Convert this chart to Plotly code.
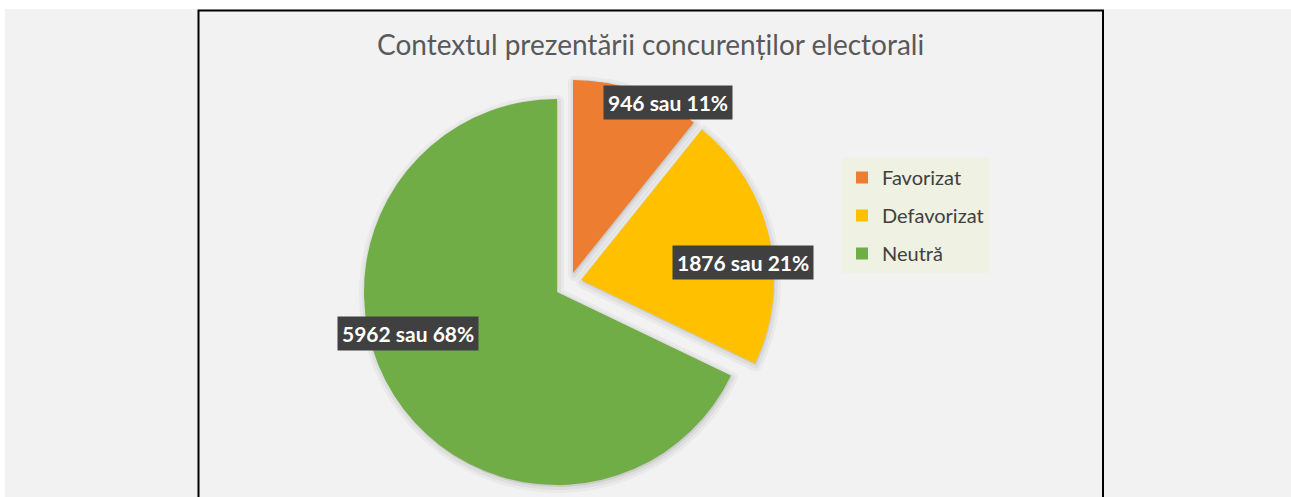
import plotly.graph_objects as go

# ---- data ----
title_text = "Contextul prezentării concurenților electorali"
labels = ["Favorizat", "Defavorizat", "Neutră"]
values = [946, 1876, 5962]
colors = ["#ED7D31", "#FFC000", "#70AD47"]

W, H = 1291, 497
total = sum(values)
pcts = [round(v * 100 / total) for v in values]
label_texts = [f"{v} sau {p}%" for v, p in zip(values, pcts)]

# ---- layout geometry (pixels) ----
CX, CY, R = 557, 292, 193
# explosion offsets (dx, dy) in pixels for each slice
offsets = [(16, -19), (24, -12), (0, 0)]
label_pos = [(668, 102), (743, 262), (408, 333)]


def dom(cx, cy, r):
    return dict(x=[(cx - r) / W, (cx + r) / W],
                y=[(H - (cy + r)) / H, (H - (cy - r)) / H])


fig = go.Figure()

# soft shadows behind the slices
for lw, alpha in [(12, 0.035), (6, 0.045)]:
    for i, (dx, dy) in enumerate(offsets):
        fills = [f"rgba(0,0,0,{alpha})" if j == i else "rgba(0,0,0,0)" for j in range(len(values))]
        fig.add_trace(go.Pie(
            labels=labels, values=values, sort=False, direction="clockwise",
            rotation=0, marker=dict(colors=fills, line=dict(width=lw, color=fills)),
            textinfo="none", hoverinfo="skip", showlegend=False,
            domain=dom(CX + dx + 1, CY + dy + 2, R),
        ))

# one pie trace per slice so each slice can be offset (exploded) freely
for i, (dx, dy) in enumerate(offsets):
    cols = [c if j == i else "rgba(0,0,0,0)" for j, c in enumerate(colors)]
    fig.add_trace(go.Pie(
        labels=labels, values=values, sort=False, direction="clockwise",
        rotation=0, marker=dict(colors=cols, line=dict(width=0)),
        textinfo="none", hoverinfo="label+value+percent", showlegend=False,
        domain=dom(CX + dx, CY + dy, R),
    ))

# legend entries
for i, (lab, col) in enumerate(zip(labels, colors)):
    fig.add_trace(go.Scatter(
        x=[None], y=[None], mode="markers", name=lab,
        marker=dict(symbol="square", size=12, color=col),
        legendgroup=f"g{i}", showlegend=True,
    ))

shapes = [
    dict(type="rect", xref="x", yref="y", x0=5, x1=W + 5, y0=9, y1=H + 5,
         fillcolor="#F2F2F2", line=dict(width=0), layer="below"),
    dict(type="rect", xref="x", yref="y", x0=198.5, x1=1103, y0=10.5, y1=H + 10,
         fillcolor="rgba(0,0,0,0)", line=dict(color="#000000", width=2), layer="below"),
]

annotations = [dict(
    x=650, y=44, xref="x", yref="y", text=title_text, showarrow=False,
    font=dict(family="Lato", size=28, color="#595959"),
    xanchor="center", yanchor="middle",
)]
for (lx, ly), t in zip(label_pos, label_texts):
    annotations.append(dict(
        x=lx, y=ly, xref="x", yref="y", text=f"<b>{t}</b>", showarrow=False,
        font=dict(family="Lato", size=21, color="#FFFFFF"),
        bgcolor="#404040", borderpad=4, xanchor="center", yanchor="middle",
    ))

fig.update_layout(
    width=W, height=H, margin=dict(l=0, r=0, t=0, b=0),
    paper_bgcolor="#FFFFFF", plot_bgcolor="rgba(0,0,0,0)",
    xaxis=dict(range=[0, W], visible=False, fixedrange=True),
    yaxis=dict(range=[H, 0], visible=False, fixedrange=True),
    shapes=shapes, annotations=annotations,
    legend=dict(x=842 / W, y=1 - 158 / H, xanchor="left", yanchor="top",
                bgcolor="rgba(236,240,214,0.55)",
                font=dict(family="Lato", size=20, color="#404040"),
                tracegroupgap=9, itemwidth=30),
)

fig.write_html("out.html", config={"displayModeBar": False},
               post_script="document.body.style.margin='0';document.body.style.overflow='hidden';")
